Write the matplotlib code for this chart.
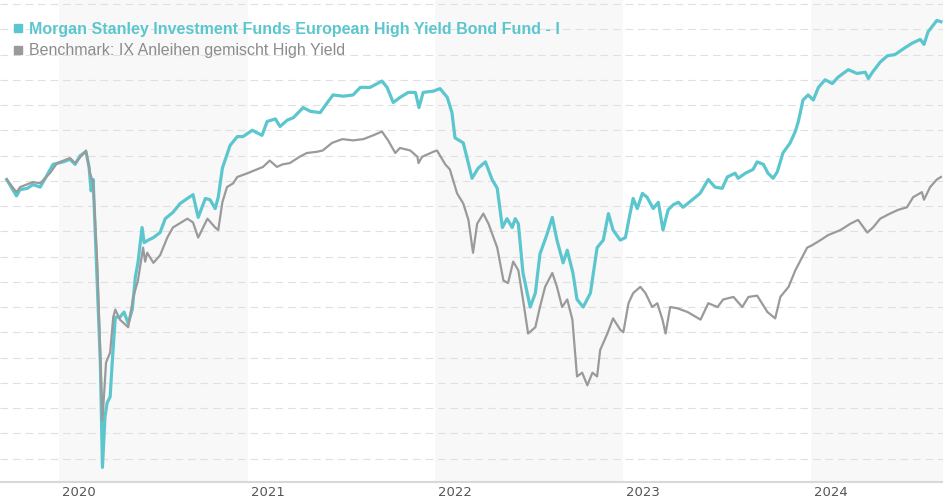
import numpy as np
import pandas as pd
import matplotlib
matplotlib.use("Agg")
import matplotlib.pyplot as plt
import matplotlib.dates as mdates
import matplotlib.transforms as mtransforms
from matplotlib.lines import Line2D

plt.rcParams['lines.scale_dashes'] = False

# fund vs benchmark, cumulative performance in %
fund_dates = ['2019-09-21', '2019-10-10', '2019-10-17', '2019-10-31', '2019-11-11', '2019-11-25',
              '2019-12-05', '2019-12-20', '2020-01-09', '2020-01-22', '2020-02-01', '2020-02-11',
              '2020-02-22', '2020-02-28', '2020-03-03', '2020-03-07', '2020-03-21', '2020-03-25',
              '2020-03-30', '2020-04-03', '2020-04-09', '2020-04-13', '2020-04-19', '2020-04-28',
              '2020-05-06', '2020-05-14', '2020-05-22', '2020-05-28', '2020-06-02', '2020-06-10',
              '2020-06-14', '2020-06-22', '2020-07-02', '2020-07-15', '2020-07-25', '2020-08-09',
              '2020-08-23', '2020-09-06', '2020-09-17', '2020-09-27', '2020-10-11', '2020-10-20',
              '2020-10-30', '2020-11-05', '2020-11-13', '2020-11-28', '2020-12-12', '2020-12-23',
              '2021-01-10', '2021-01-29', '2021-02-08', '2021-02-24', '2021-03-05', '2021-03-19',
              '2021-03-31', '2021-04-19', '2021-05-03', '2021-05-22', '2021-06-05', '2021-06-16',
              '2021-07-06', '2021-07-25', '2021-08-08', '2021-08-27', '2021-09-19', '2021-09-29',
              '2021-10-11', '2021-10-24', '2021-11-09', '2021-11-23', '2021-11-30', '2021-12-08',
              '2021-12-28', '2022-01-10', '2022-01-24', '2022-02-02', '2022-02-08', '2022-02-24',
              '2022-03-04', '2022-03-13', '2022-03-25', '2022-04-08', '2022-04-21', '2022-05-01',
              '2022-05-11', '2022-05-20', '2022-05-30', '2022-06-05', '2022-06-11', '2022-06-20',
              '2022-07-04', '2022-07-14', '2022-07-23', '2022-08-06', '2022-08-16', '2022-08-25',
              '2022-09-06', '2022-09-14', '2022-09-25', '2022-10-03', '2022-10-15', '2022-10-29',
              '2022-11-11', '2022-11-23', '2022-12-03', '2022-12-12', '2022-12-26', '2023-01-05',
              '2023-01-14', '2023-01-20', '2023-01-28', '2023-02-07', '2023-02-16', '2023-02-28',
              '2023-03-10', '2023-03-19', '2023-03-29', '2023-04-08', '2023-04-18', '2023-04-27',
              '2023-05-15', '2023-05-30', '2023-06-15', '2023-06-28', '2023-07-12', '2023-07-22',
              '2023-08-06', '2023-08-12', '2023-08-26', '2023-09-10', '2023-09-18', '2023-09-30',
              '2023-10-09', '2023-10-19', '2023-10-27', '2023-11-07', '2023-11-21', '2023-12-01',
              '2023-12-07', '2023-12-16', '2023-12-26', '2024-01-05', '2024-01-15', '2024-01-28',
              '2024-02-11', '2024-02-22', '2024-03-13', '2024-03-30', '2024-04-15', '2024-04-21',
              '2024-04-29', '2024-05-14', '2024-05-28', '2024-06-12', '2024-06-26', '2024-07-15',
              '2024-07-31', '2024-08-07', '2024-08-15', '2024-09-01', '2024-09-09']
fund_vals = [0.1, -1.2, -0.7, -0.6, -0.3, -0.5,
             0.2, 1.3, 1.5, 1.7, 1.3, 2.0,
             2.3, 1.1, -0.8, 0.1, -14.5, -22.7,
             -18.7, -17.6, -17.1, -14.4, -10.8, -10.8,
             -10.4, -11.3, -10.2, -7.6, -6.5, -3.7,
             -4.9, -4.7, -4.5, -4.1, -3.0, -2.5,
             -1.8, -1.4, -1.1, -2.9, -1.4, -1.5,
             -2.2, -1.3, 1.0, 2.8, 3.5, 3.5,
             4.0, 3.6, 4.7, 4.9, 4.3, 4.8,
             5.0, 5.8, 5.5, 5.4, 6.2, 6.8,
             6.7, 6.8, 7.4, 7.4, 7.9, 7.4,
             6.2, 6.6, 7.0, 7.0, 5.8, 7.0,
             7.1, 7.3, 6.6, 5.4, 3.4, 3.0,
             1.7, 0.2, 1.0, 1.5, 0.1, -0.6,
             -3.7, -3.0, -3.7, -3.0, -3.4, -7.3,
             -10.0, -8.9, -5.8, -4.2, -2.9, -4.7,
             -6.5, -5.5, -7.3, -9.4, -10.0, -8.9,
             -5.3, -4.7, -2.6, -3.9, -4.7, -4.5,
             -2.6, -1.4, -2.2, -1.0, -1.3, -2.2,
             -1.7, -3.9, -2.3, -1.9, -1.7, -2.1,
             -1.5, -1.0, 0.1, -0.5, -0.6, 0.3,
             0.6, 0.2, 0.6, 0.9, 1.5, 1.3,
             0.6, 0.2, 0.7, 2.2, 3.0, 3.9,
             4.7, 6.4, 6.8, 6.4, 7.4, 8.0,
             7.7, 8.2, 8.8, 8.5, 8.6, 8.1,
             8.6, 9.4, 9.9, 10.0, 10.4, 10.9,
             11.2, 10.8, 11.8, 12.7, 12.6]

bench_dates = ['2019-09-21', '2019-10-10', '2019-10-17', '2019-11-11', '2019-11-25', '2019-12-14',
               '2019-12-28', '2020-01-22', '2020-02-01', '2020-02-22', '2020-03-01', '2020-03-07',
               '2020-03-15', '2020-03-25', '2020-04-01', '2020-04-09', '2020-04-15', '2020-04-19',
               '2020-04-28', '2020-05-14', '2020-05-24', '2020-06-02', '2020-06-12', '2020-06-16',
               '2020-06-20', '2020-07-02', '2020-07-15', '2020-07-29', '2020-08-09', '2020-09-06',
               '2020-09-17', '2020-09-27', '2020-10-15', '2020-10-30', '2020-11-05', '2020-11-13',
               '2020-11-22', '2020-12-04', '2020-12-12', '2021-01-01', '2021-01-31', '2021-02-13',
               '2021-02-27', '2021-03-10', '2021-03-24', '2021-04-12', '2021-04-26', '2021-05-16',
               '2021-05-27', '2021-06-14', '2021-07-04', '2021-07-25', '2021-08-14', '2021-09-02',
               '2021-09-19', '2021-10-01', '2021-10-15', '2021-10-24', '2021-11-13', '2021-11-27',
               '2021-11-29', '2021-12-06', '2021-12-28', '2022-01-04', '2022-01-20', '2022-01-29',
               '2022-02-12', '2022-02-24', '2022-03-06', '2022-03-15', '2022-03-23', '2022-04-04',
               '2022-04-14', '2022-05-01', '2022-05-13', '2022-05-22', '2022-06-01', '2022-06-11',
               '2022-06-20', '2022-06-30', '2022-07-14', '2022-07-23', '2022-08-02', '2022-08-16',
               '2022-08-25', '2022-09-04', '2022-09-14', '2022-09-24', '2022-10-03', '2022-10-13',
               '2022-10-23', '2022-11-02', '2022-11-11', '2022-11-17', '2022-12-01', '2022-12-12',
               '2022-12-26', '2023-01-01', '2023-01-11', '2023-01-20', '2023-02-03', '2023-02-13',
               '2023-02-26', '2023-03-08', '2023-03-18', '2023-03-24', '2023-04-02', '2023-04-16',
               '2023-05-06', '2023-05-31', '2023-06-15', '2023-07-03', '2023-07-14', '2023-08-03',
               '2023-08-20', '2023-09-01', '2023-09-18', '2023-10-08', '2023-10-23', '2023-11-02',
               '2023-11-18', '2023-12-01', '2023-12-15', '2023-12-24', '2024-01-03', '2024-01-19',
               '2024-02-03', '2024-02-27', '2024-03-17', '2024-04-01', '2024-04-19', '2024-04-30',
               '2024-05-14', '2024-06-02', '2024-06-18', '2024-07-05', '2024-07-17', '2024-08-03',
               '2024-08-07', '2024-08-19', '2024-09-01', '2024-09-09']
bench_vals = [0.1, -0.9, -0.5, -0.1, -0.2, 0.6,
              1.4, 1.8, 1.4, 2.4, 0.6, -0.2,
              -6.5, -19.0, -14.4, -13.6, -10.8, -10.2,
              -11.0, -11.6, -9.2, -7.9, -5.3, -6.4,
              -5.7, -6.5, -5.9, -4.5, -3.7, -3.0,
              -3.3, -4.5, -3.0, -3.7, -3.9, -1.7,
              -0.5, -0.2, 0.3, 0.6, 1.1, 1.6,
              1.1, 1.3, 1.4, 1.9, 2.2, 2.3,
              2.4, 3.0, 3.3, 3.2, 3.3, 3.6,
              3.9, 3.2, 2.2, 2.6, 2.4, 1.9,
              1.4, 1.9, 2.3, 2.4, 1.3, 0.9,
              -1.0, -1.8, -3.1, -5.7, -3.4, -2.6,
              -3.4, -5.3, -7.9, -8.1, -6.4, -7.1,
              -9.4, -12.1, -11.6, -10.0, -8.4, -7.3,
              -8.4, -10.0, -9.4, -11.0, -15.5, -15.2,
              -16.2, -15.2, -15.5, -13.4, -12.1, -10.9,
              -11.8, -12.0, -9.7, -8.9, -8.4, -8.9,
              -10.0, -9.7, -11.0, -12.1, -10.0, -10.1,
              -10.4, -11.0, -9.7, -10.0, -9.4, -9.2,
              -10.0, -9.2, -9.1, -10.4, -10.9, -9.2,
              -8.4, -7.1, -6.0, -5.3, -5.1, -4.7,
              -4.3, -3.9, -3.4, -3.1, -4.1, -3.7,
              -3.0, -2.6, -2.3, -2.1, -1.3, -0.9,
              -1.5, -0.5, 0.1, 0.3]

fund_name = 'Morgan Stanley Investment Funds European High Yield Bond Fund - I'
bench_name = 'Benchmark: IX Anleihen gemischt High Yield'
shaded_years = [2020, 2022, 2024]

teal = '#5cc6cf'
grey = '#9a9a9a'

fund = pd.Series(fund_vals, index=pd.to_datetime(fund_dates))
bench = pd.Series(bench_vals, index=pd.to_datetime(bench_dates))

fig = plt.figure(figsize=(9.43, 5.0), dpi=100)
ax = fig.add_axes([0, 0.036, 1, 0.964])

for yr in shaded_years:
    ax.axvspan(pd.Timestamp(f'{yr}-01-01'), pd.Timestamp(f'{yr + 1}-01-01'),
               color='#f8f8f8', lw=0, zorder=0)

ax.plot(fund.index, fund.values, color=teal, lw=2.3, zorder=3)
ax.plot(bench.index, bench.values, color=grey, lw=1.6, zorder=4)

ax.set_xlim(pd.Timestamp('2019-09-08'), pd.Timestamp('2024-09-13'))
ax.set_ylim(-23.86, 14.32)
ax.set_yticks(np.arange(-22, 15, 2))
ax.yaxis.grid(True, color='#e0e0e0', lw=0.8, ls=(0, (5.5, 3.5)), zorder=1)
ax.set_axisbelow(True)
ax.tick_params(axis='y', left=False, labelleft=False)

ax.xaxis.set_major_locator(mdates.YearLocator())
ax.xaxis.set_major_formatter(mdates.DateFormatter('%Y'))
ax.tick_params(axis='x', length=0, pad=3, labelsize=9.5, labelcolor='#555555')
offset = mtransforms.ScaledTranslation(3 / 100, 0, fig.dpi_scale_trans)
for lab in ax.get_xticklabels():
    lab.set_horizontalalignment('left')
    lab.set_transform(lab.get_transform() + offset)

for s in ['top', 'left', 'right']:
    ax.spines[s].set_visible(False)
ax.spines['bottom'].set_color('#d8d8d8')
ax.spines['bottom'].set_linewidth(1.5)

handles = [Line2D([], [], ls='none', marker='s', markersize=6, color=teal),
           Line2D([], [], ls='none', marker='s', markersize=6, color=grey)]
leg = ax.legend(handles, [fund_name, bench_name], loc='upper left',
                bbox_to_anchor=(0.0, 0.978), frameon=False, handlelength=0.8,
                handletextpad=0.3, labelspacing=0.42, borderaxespad=0.3,
                prop={'family': 'Liberation Sans', 'size': 11.5})
txt = leg.get_texts()
txt[0].set_color(teal)
txt[0].set_fontweight('bold')
txt[1].set_color('#8c8c8c')

fig.savefig('out.png', dpi=100)
